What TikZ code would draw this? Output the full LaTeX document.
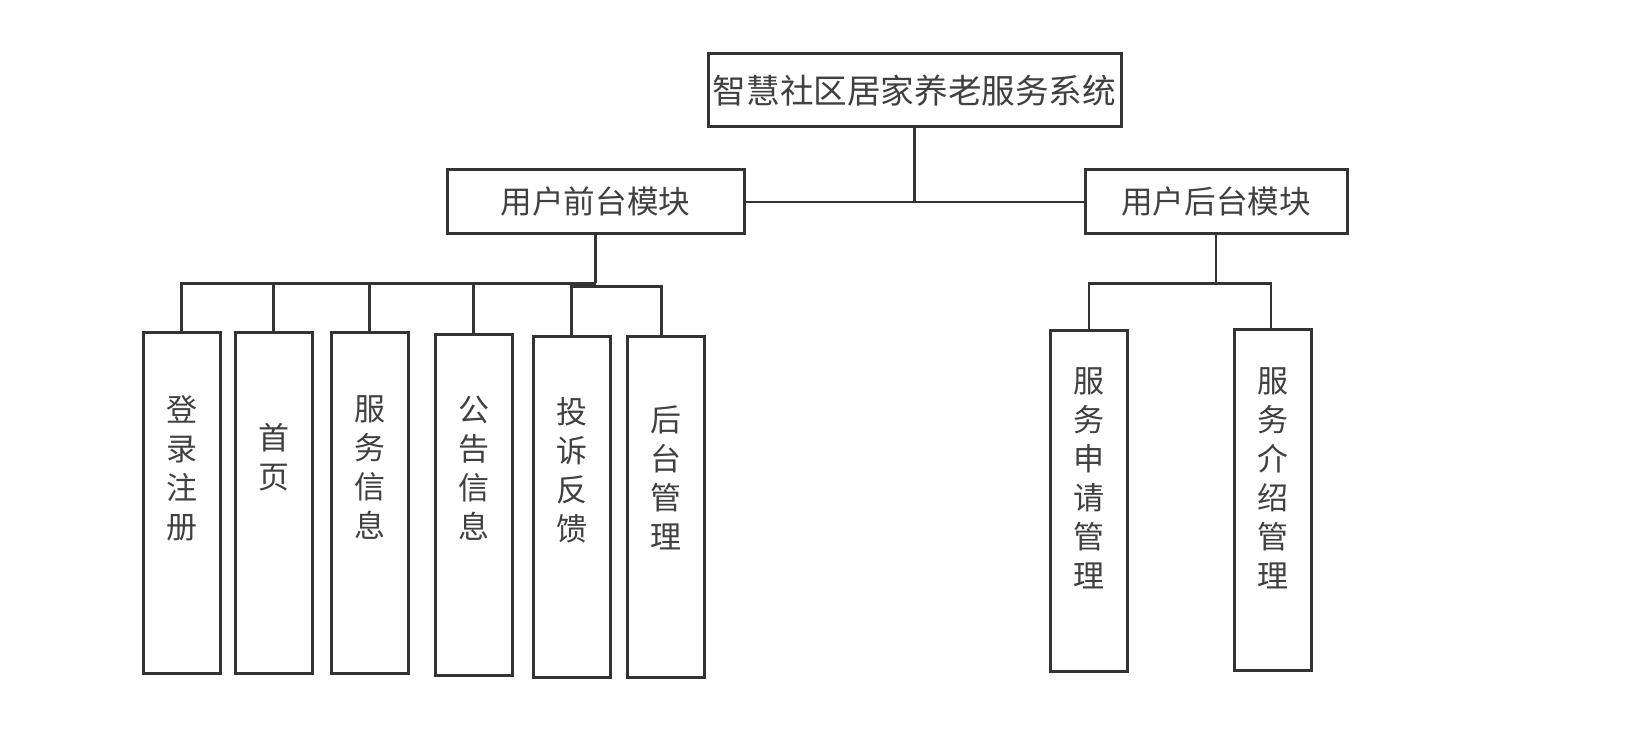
\documentclass[tikz,border=0pt]{standalone}
\usepackage{fontspec}
\newfontfamily\cjk{Noto Sans CJK SC}
\usepackage{tikz}
\usetikzlibrary{positioning}
\definecolor{linegray}{HTML}{333333}
\definecolor{textgray}{HTML}{404040}

\begin{document}
\begin{tikzpicture}[
  root/.style={draw=linegray, line width=1.5pt, fill=white, inner sep=1pt, minimum width=206.5pt, minimum height=36.5pt, text=textgray, font=\cjk\fontsize{16.8}{20}\selectfont},
  module/.style={draw=linegray, line width=1.5pt, fill=white, inner sep=1pt, minimum height=32pt, text=textgray, font=\cjk\fontsize{15.8}{19}\selectfont},
  leaf/.style={draw=linegray, line width=1.5pt, fill=white, outer sep=0pt, minimum width=38.5pt, minimum height=170.5pt},
  vlabel/.style={align=center, inner sep=0pt, text=textgray, font=\cjk\fontsize{15.5}{19.5}\selectfont},
  link/.style={draw=linegray, line width=1.4pt}
]
\fill[white] (0,0) rectangle (812.5pt,-368.5pt);
\useasboundingbox (0,0) rectangle (812.5pt,-368.5pt);
% top level
\node[root] (sys) at (457.25pt,-45.25pt) {智慧社区居家养老服务系统};
\node[module, minimum width=148.5pt] (front) at (297.75pt,-101pt) {用户前台模块};
\node[module, minimum width=131pt] (back) at (608pt,-101pt) {用户后台模块};
% front modules
\node[leaf] (login) at (90.75pt,-251.25pt) {};
\node[leaf, right=7.5pt of login] (home) {};
\node[leaf, right=9.5pt of home] (info) {};
\node[leaf, right=13.5pt of info, yshift=-1pt] (notice) {};
\node[leaf, right=10.5pt of notice, yshift=-1pt] (complaint) {};
\node[leaf, right=8.5pt of complaint] (admin) {};
% back modules
\node[leaf] (apply) at (544.5pt,-250.5pt) {};
\node[leaf, right=53.5pt of apply, yshift=0.5pt] (intro) {};
% vertical labels
\node[vlabel] (loginlbl) at ([yshift=17pt]login.center) {登\\录\\注\\册};
\node[vlabel] (homelbl) at ([yshift=22.5pt]home.center) {首\\页};
\node[vlabel] (infolbl) at ([yshift=17.5pt]info.center) {服\\务\\信\\息};
\node[vlabel] (noticelbl) at ([yshift=18pt]notice.center) {公\\告\\信\\息};
\node[vlabel] (complaintlbl) at ([yshift=18pt]complaint.center) {投\\诉\\反\\馈};
\node[vlabel] (adminlbl) at ([yshift=14.5pt]admin.center) {后\\台\\管\\理};
\node[vlabel] (applylbl) at ([yshift=11.5pt]apply.center) {服\\务\\申\\请\\管\\理};
\node[vlabel] (introlbl) at ([yshift=11pt]intro.center) {服\\务\\介\\绍\\管\\理};
% connectors
\draw[link] (front.east) -- (back.west);
\draw[link] (sys.south) -- (sys.south |- front.east);
\draw[link] (front.south) -- ++(0,-24pt) coordinate (fbar);
\draw[link] (fbar) -| (login.north);
\draw[link] (fbar) -| (home.north);
\draw[link] (fbar) -| (info.north);
\draw[link] (fbar) -| (notice.north);
\coordinate (fbar2) at ([yshift=-1.5pt]fbar);
\draw[link] (complaint.north) -- (complaint.north |- fbar);
\draw[link] (complaint.north |- fbar2) -| ([xshift=-2pt]admin.north);
\draw[link] (back.south) -- ++(0,-24pt) coordinate (bbar);
\draw[link] (bbar) -| (apply.north);
\draw[link] (bbar) -| ([xshift=-1pt]intro.north);
\end{tikzpicture}
\end{document}
